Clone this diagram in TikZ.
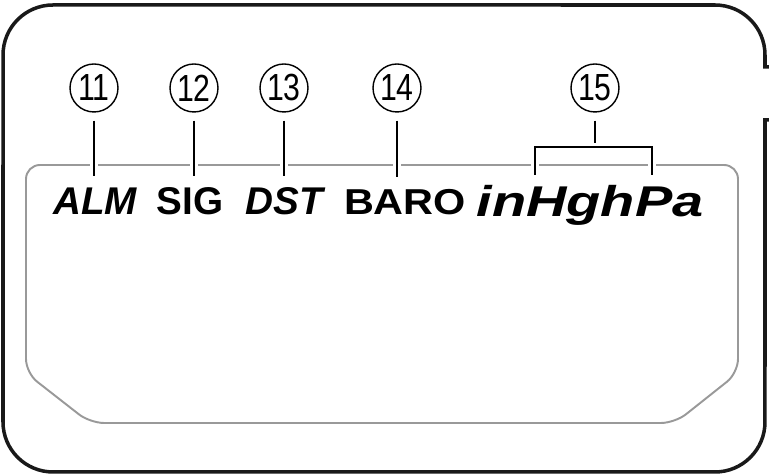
\documentclass[tikz,border=0pt]{standalone}
\usepackage{fontspec}
\setmainfont{Liberation Sans}
\usepackage{tikz}

\begin{document}
\begin{tikzpicture}[
            x=0.02cm,y=0.02cm,
            frame/.style={draw,line width=2pt,color=black!90},
            panel/.style={draw,line width=1.1pt,color=black!40,rounded corners=0.28cm},
            num/.style={draw,circle,line width=0.8pt,minimum size=0.96cm,inner sep=0,font=\fontsize{21.5}{22}\selectfont},
            lab/.style={inner sep=0,anchor=base,font=\fontsize{22}{24}\selectfont\bfseries},
            leader/.style={draw,line width=0.8pt,preaction={draw,white,line width=5pt}}
          ]
          \useasboundingbox (0,0) rectangle (769,475);

          %case
          \draw[frame] (769,408) -- (765,408) -- (765,420)
            arc[start angle=0,end angle=90,radius=1cm] -- (53,470)
            arc[start angle=90,end angle=180,radius=1cm] -- (3,53)
            arc[start angle=180,end angle=270,radius=1cm] -- (715,3)
            arc[start angle=270,end angle=360,radius=1cm] -- (765,355) -- (769,355);

          %display
          \draw[panel] (26,102) -- (26,310) -- (738,310) -- (738,102) -- (675,52) -- (90,52) -- cycle;

          %numbers
          \node[num] (c11) at (94,387) {\scalebox{0.8}[1]{11}};
          \node[num] (c12) at (194,387) {\scalebox{0.8}[1]{12}};
          \node[num] (c13) at (284,387) {\scalebox{0.8}[1]{13}};
          \node[num] (c14) at (397,387) {\scalebox{0.8}[1]{14}};
          \node[num] (c15) at (595,387) {\scalebox{0.8}[1]{15}};

          %labels
          \node[lab] (alm) at (95,260) {\itshape ALM};
          \node[lab] (sig) at (190,260) {SIG};
          \node[lab] (dst) at (284,260) {\itshape DST};
          \node[lab,font=\fontsize{20.5}{22}\selectfont\bfseries] (baro) at (405,260) {\scalebox{1.15}[1]{BARO}};
          \node[lab,font=\fontsize{24.5}{26}\selectfont\bfseries\itshape] (unit) at (590,258) {\scalebox{1.3}[1]{inHghPa}};

          %leaders
          \coordinate (brk) at (595,328);
          \coordinate (hg) at (535,300);
          \coordinate (pa) at (652,300);
          \path
          ([yshift=-0.16cm]c11.south) edge[leader] ([yshift=0.24cm]c11.south |- alm.north)
          ([yshift=-0.16cm]c12.south) edge[leader] ([yshift=0.24cm]c12.south |- sig.north)
          ([yshift=-0.16cm]c13.south) edge[leader] ([yshift=0.24cm]c13.south |- dst.north)
          ([yshift=-0.16cm]c14.south) edge[leader] ([yshift=0.24cm]c14.south |- baro.north)
          ([yshift=-0.16cm]c15.south) edge[leader] (brk)
          ;
          \draw[leader] (hg) |- (brk) -| (pa);

      \end{tikzpicture}
\end{document}
